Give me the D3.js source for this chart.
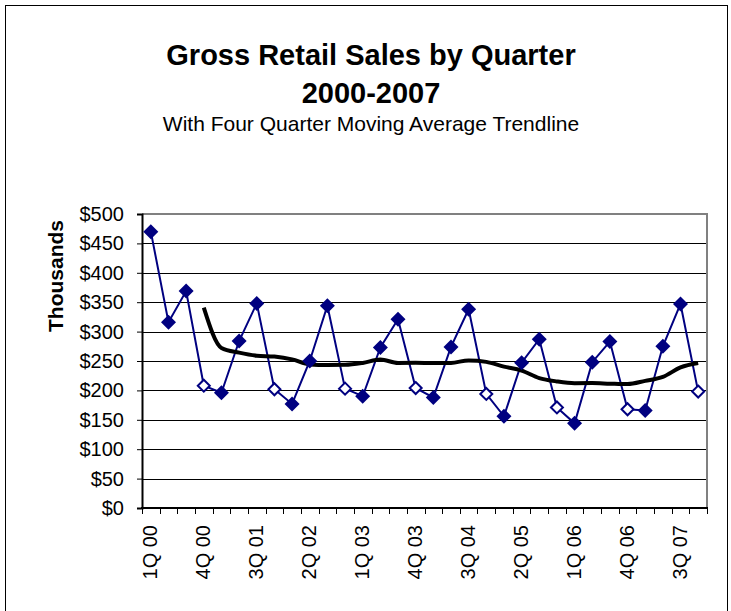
<!DOCTYPE html>
<html>
<head>
<meta charset="utf-8">
<script src="https://cdn.jsdelivr.net/npm/d3@7"></script>
<style>
  body { margin: 0; background: #fff; }
  svg { display: block; font-family: "Liberation Sans", Arial, sans-serif; }
</style>
</head>
<body>
<div id="chart"></div>
<script>
// quarter labels
const years = ['00', '01', '02', '03', '04', '05', '06', '07'];
const qtrs = ['1Q', '2Q', '3Q', '4Q'];
const quarters = years.flatMap(yr => qtrs.map(q => `${q} ${yr}`));

// gross sales, thousands of dollars
const sales = [470, 316, 369, 208, 196, 284, 348, 202,
               177, 250, 344, 203, 190, 273, 321, 204,
               188, 274, 338, 194, 156, 247, 287, 171,
               144, 248, 283, 168, 166, 275, 347, 198];

const yTicks = [0, 50, 100, 150, 200, 250, 300, 350, 400, 450, 500];

const W = 731, H = 611;
const pLeft = 142, pRight = 707, pTop = 214, pBottom = 508;
const navy = '#000080';

const svg = d3.select('#chart').append('svg')
    .attr('width', W)
    .attr('height', H);

// outer frame
svg.append('rect')
    .attr('x', 5.5).attr('y', 5.5)
    .attr('width', 722).attr('height', 640)
    .attr('fill', 'white')
    .attr('stroke', 'black')
    .attr('stroke-width', 1);

//TITLES
svg.append('text')
    .attr('x', 371).attr('y', 65)
    .attr('text-anchor', 'middle')
    .style('font-size', '29px').style('font-weight', 'bold')
    .text('Gross Retail Sales by Quarter');
svg.append('text')
    .attr('x', 371).attr('y', 103)
    .attr('text-anchor', 'middle')
    .style('font-size', '29px').style('font-weight', 'bold')
    .text('2000-2007');
svg.append('text')
    .attr('x', 371).attr('y', 131)
    .attr('text-anchor', 'middle')
    .style('font-size', '21px')
    .text('With Four Quarter Moving Average Trendline');

//SCALES
const x = d3.scaleBand().domain(quarters).range([pLeft, pRight]).padding(0);
const y = d3.scaleLinear().domain([0, 500]).range([pBottom, pTop]);
const cx = d => x(d) + x.bandwidth() / 2;

//GRIDLINES
svg.append('g')
    .selectAll('line')
    .data(yTicks.filter(d => d > 0))
    .enter()
    .append('line')
    .attr('x1', pLeft).attr('x2', pRight)
    .attr('y1', d => Math.round(y(d)) + 0.5)
    .attr('y2', d => Math.round(y(d)) + 0.5)
    .attr('stroke', 'black')
    .attr('stroke-width', 1);

// plot border top and right (grey)
svg.append('path')
    .attr('d', `M${pLeft},${pTop} H${pRight} V${pBottom}`)
    .attr('fill', 'none')
    .attr('stroke', '#808080')
    .attr('stroke-width', 2);

//Y AXIS
const yAxis = svg.append('g')
    .attr('transform', `translate(${pLeft},0)`)
    .call(d3.axisLeft(y).tickValues(yTicks).tickFormat(d => '$' + d).tickSize(5).tickPadding(13));
yAxis.select('.domain').attr('stroke', 'black').attr('stroke-width', 2);
yAxis.selectAll('.tick line').attr('stroke', 'black');
yAxis.selectAll('.tick text')
    .style('font-size', '20px')
    .style('font-family', '"Liberation Sans", Arial, sans-serif')
    .attr('fill', 'black');

svg.append('text')
    .attr('transform', `translate(63,276) rotate(-90)`)
    .attr('text-anchor', 'middle')
    .style('font-size', '21px').style('font-weight', 'bold')
    .text('Thousands');

//X AXIS
svg.append('line')
    .attr('x1', pLeft - 1).attr('x2', pRight + 1)
    .attr('y1', pBottom).attr('y2', pBottom)
    .attr('stroke', 'black').attr('stroke-width', 2);

const tickPos = quarters.map(q => x(q)).concat([x.range()[1]]);
svg.append('g')
    .selectAll('line')
    .data(tickPos)
    .enter()
    .append('line')
    .attr('x1', d => Math.round(d) + 0.5).attr('x2', d => Math.round(d) + 0.5)
    .attr('y1', pBottom).attr('y2', pBottom + 6)
    .attr('stroke', 'black');

svg.append('g')
    .selectAll('text')
    .data(quarters.filter((q, i) => i % 3 === 0))
    .enter()
    .append('text')
    .attr('transform', d => `translate(${cx(d) + 6},${pBottom + 17}) rotate(-90)`)
    .attr('text-anchor', 'end')
    .style('font-size', '20px')
    .text(d => d);

//SALES LINE
const data = quarters.map((q, i) => ({ q: q, v: sales[i], open: q.startsWith('4Q') }));

svg.append('path')
    .datum(data)
    .attr('fill', 'none')
    .attr('stroke', navy)
    .attr('stroke-width', 2)
    .attr('d', d3.line().x(d => cx(d.q)).y(d => y(d.v)));

//MOVING AVERAGE (4 quarters)
const avg = data.slice(3).map((d, i) => ({ q: d.q, v: d3.mean(sales.slice(i, i + 4)) }));
svg.append('path')
    .datum(avg)
    .attr('fill', 'none')
    .attr('stroke', 'black')
    .attr('stroke-width', 4)
    .attr('stroke-linejoin', 'round')
    .attr('d', d3.line().curve(d3.curveMonotoneX).x(d => cx(d.q)).y(d => y(d.v)));

//MARKERS
const diamond = r => `M0,${-r}L${r},0L0,${r}L${-r},0Z`;
svg.append('g')
    .selectAll('path')
    .data(data)
    .enter()
    .append('path')
    .attr('transform', d => `translate(${cx(d.q)},${y(d.v)})`)
    .attr('d', d => d.open ? diamond(6) : diamond(7.5))
    .attr('fill', d => d.open ? 'white' : navy)
    .attr('stroke', navy)
    .attr('stroke-width', d => d.open ? 2 : 0);
</script>
</body>
</html>
